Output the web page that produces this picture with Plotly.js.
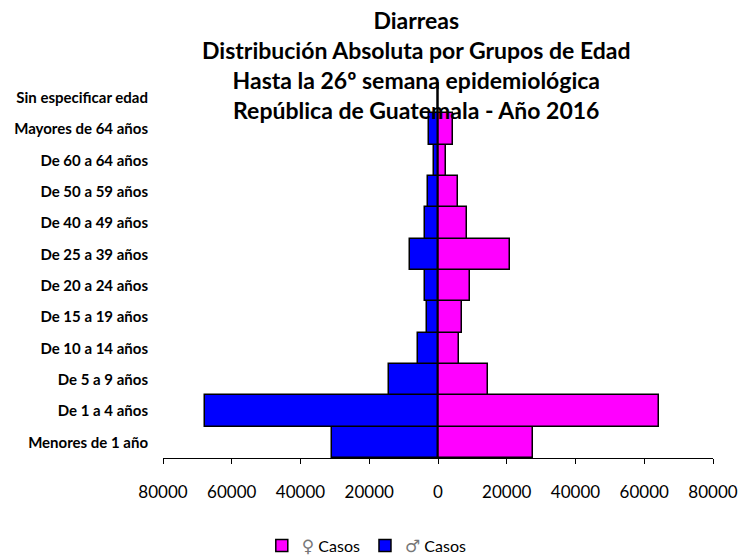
<!DOCTYPE html>
<html>
<head>
<meta charset="utf-8">
<script src="https://cdn.plot.ly/plotly-3.0.1.min.js"></script>
<style>html,body{margin:0;padding:0;background:#fff;}#chart{width:741px;height:559px;}</style>
</head>
<body>
<div id="chart"></div>
<script>
var categories = ["Menores de 1 año","De 1 a 4 años","De 5 a 9 años","De 10 a 14 años","De 15 a 19 años","De 20 a 24 años","De 25 a 39 años","De 40 a 49 años","De 50 a 59 años","De 60 a 64 años","Mayores de 64 años","Sin especificar edad"];
var femaleCases = [27600, 64300, 14500, 6100, 7000, 9300, 21000, 8400, 5800, 2300, 4400, 0];
var maleCases = [30800, 67800, 14300, 5800, 3200, 3800, 8100, 3800, 2900, 1200, 2600, 0];
var tickValues = [-80000, -60000, -40000, -20000, 0, 20000, 40000, 60000, 80000];
var tickLabels = ["80000","60000","40000","20000","0","20000","40000","60000","80000"];
var titleText = '<b>Diarreas<br>Distribución Absoluta por Grupos de Edad<br>Hasta la 26º semana epidemiológica<br>República de Guatemala - Año 2016</b>';
var femaleName = '<span style="font-family:\'DejaVu Sans\';font-size:17px;color:#777">♀</span> Casos';
var maleName = '<span style="font-family:\'DejaVu Sans\';font-size:17px;color:#777">♂</span> Casos';

var font = "Lato, 'Open Sans', sans-serif";
var traces = [
  {type:'bar', orientation:'h', name:femaleName, y:categories, x:femaleCases,
   marker:{color:'#ff00ff', line:{color:'#000', width:1.5}}, hoverinfo:'x+y'},
  {type:'bar', orientation:'h', name:maleName, y:categories, x:maleCases.map(function(v){return -v;}),
   marker:{color:'#0000ff', line:{color:'#000', width:1.5}}, hoverinfo:'x+y'}
];
var layout = {
  width:741, height:559,
  margin:{l:163, r:28, t:82, b:101},
  paper_bgcolor:'#fff', plot_bgcolor:'#fff',
  barmode:'relative', bargap:0,
  xaxis:{range:[-80000,80000], tickvals:tickValues, ticktext:tickLabels, showgrid:false, zeroline:false,
    showline:true, linecolor:'#000', linewidth:1, ticks:'outside', ticklen:5, tickcolor:'#000',
    ticklabelstandoff:14, fixedrange:true,
    tickfont:{family:font, size:17, color:'#000'}},
  yaxis:{showgrid:false, zeroline:false, showline:false, ticks:'', automargin:false,
    ticklabelstandoff:14, fixedrange:true,
    tickfont:{family:font, size:15, color:'#000', weight:'bold'}, categoryorder:'array', categoryarray:categories},
  legend:{orientation:'h', xref:'container', yref:'container', x:0.495, xanchor:'center', y:0.024, yanchor:'middle',
    traceorder:'normal', font:{family:font, size:16, color:'#000'}},
  annotations:[{text:titleText, xref:'paper', yref:'paper', x:0.4618, y:1.205, xanchor:'center', yanchor:'top',
    showarrow:false, borderpad:0, font:{family:font, size:23, color:'#000'}}],
  shapes:[{type:'line', xref:'x', yref:'paper', x0:0, x1:0, y0:0, y1:1, line:{color:'#000', width:1.5}}],
  showlegend:true
};
Plotly.newPlot('chart', traces, layout, {displayModeBar:false});
</script>
</body>
</html>
